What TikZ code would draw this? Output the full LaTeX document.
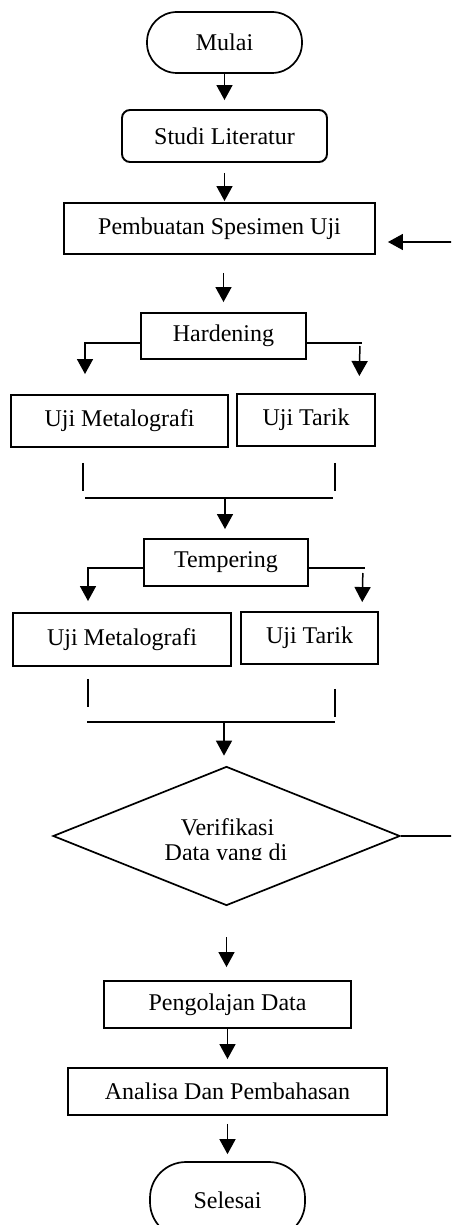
\documentclass[tikz,border=0pt]{standalone}
\usepackage{fontspec}
\setmainfont{Liberation Serif}
\usetikzlibrary{calc}
\usetikzlibrary{arrows.meta}
\usetikzlibrary{shapes.geometric}

\begin{document}
\begin{tikzpicture}[x=1pt, y=-1pt, font=\fontsize{24}{25}\selectfont]

        % Styles for the boxes and the connectors of the flow
        \tikzset{
            terminal/.style={draw, line width=1.7pt, minimum width=155pt, inner sep=0pt},
            stepbox/.style={draw, line width=1.9pt, inner sep=0pt},
            decision/.style={draw, diamond, line width=1.7pt, inner sep=0pt,
                minimum width=347pt, minimum height=139pt},
            arr/.style={line width=1.5pt, -{Triangle[width=16pt, length=15pt]}},
            stub/.style={line width=1.5pt}
        }

        % Page frame, the loop back runs out of it and is cut off
        \useasboundingbox (0, 0) rectangle (451, 1225);
        \clip (0, 0) rectangle (451, 1225);

        % Boxes of the flow, top to bottom
        \node[terminal, rounded corners=30pt, minimum height=61pt] (mulai) at (224.5, 42.5) {Mulai};
        \node[stepbox, rounded corners=8pt, minimum width=205pt, minimum height=52pt] (studi) at (224.5, 136) {Studi Literatur};
        \node[stepbox, minimum width=311pt, minimum height=51pt] (pemb) at (219.5, 228.5) {Pembuatan Spesimen Uji};
        \node[stepbox, minimum width=165pt, minimum height=46pt] (hard) at (223.5, 336) {Hardening};
        \node[stepbox, minimum width=217pt, minimum height=52pt] (metalA) at (119.5, 421) {Uji Metalografi};
        \node[stepbox, minimum width=138pt, minimum height=52pt] (tarikA) at (306, 420) {Uji Tarik};
        \node[stepbox, minimum width=164pt, minimum height=47pt] (temp) at (226, 562.5) {Tempering};
        \node[stepbox, minimum width=218pt, minimum height=53pt] (metalB) at (122, 639.5) {Uji Metalografi};
        \node[stepbox, minimum width=137pt, minimum height=52pt] (tarikB) at (309.5, 638) {Uji Tarik};
        \node[decision] (verif) at (226.5, 836) {};
        \node[stepbox, minimum width=247pt, minimum height=47pt] (olah) at (227.5, 1004.5) {Pengolajan Data};
        \node[stepbox, minimum width=319pt, minimum height=47pt] (analisa) at (227.5, 1091.5) {Analisa Dan Pembahasan};
        \node[terminal, rounded corners=36pt, minimum height=76pt] (selesai) at (227.5, 1200) {Selesai};

        % Text of the decision, the second line is cut at its foot
        \node[anchor=base] (verifA) at (227.5, 835) {Verifikasi};
        \begin{scope}
            \clip (150, 838) rectangle (310, 859);
            \node[anchor=base] (verifB) at (226, 860) {Data yang di};
        \end{scope}

        % Points where the two tests are joined again
        \coordinate (joinAL) at (85, 498);
        \coordinate (joinAR) at (333, 498);
        \coordinate (joinA) at (225, 498);
        \coordinate (joinBL) at (87, 722);
        \coordinate (joinBR) at (335, 722);
        \coordinate (joinB) at (224, 722);

        \begin{scope}[stub]
            \draw ($(hard.east)+(0,7)$) -- ++(55,0);
            \draw ($(temp.east)+(0,5.5)$) -- ++(56,0);

            \draw ($(metalA.south)+(-36.5,15)$) -- ++(0,28);
            \draw ($(tarikA.south)+(29,16)$) -- ++(0,28);
            \draw (joinAL) -- (joinAR);

            \draw ($(metalB.south)+(-34,12)$) -- ++(0,28);
            \draw ($(tarikB.south)+(25.5,24)$) -- ++(0,28);
            \draw (joinBL) -- (joinBR);
        \end{scope}

        \begin{scope}[arr]
            \draw[shorten >=9pt] (mulai.south) -- (mulai.south |- studi.north);
            \draw[shorten <=10pt, shorten >=1pt] (studi.south) -- (studi.south |- pemb.north);
            \draw[shorten <=18pt, shorten >=10pt] (pemb.south -| hard.north) -- (hard.north);

            \draw[shorten >=20pt] ($(hard.west)+(0,7)$) -| ($(metalA.north)+(-34.5,0)$);
            \draw[shorten <=3pt, shorten >=17pt] ($(hard.east)+(53,7)$) -- ($(tarikA.north)+(53,0)$);
            \draw[shorten >=9pt] (joinA) -- (joinA |- temp.north);

            \draw[shorten >=11pt] ($(temp.west)+(0,5.5)$) -| ($(metalB.north)+(-34,0)$);
            \draw[shorten <=5pt, shorten >=9pt] ($(temp.east)+(54,5.5)$) -- ($(tarikB.north)+(52.5,0)$);
            \draw[shorten >=10pt] (joinB) -- (joinB |- verif.north);

            \draw[shorten <=31pt, shorten >=13pt] (verif.south) -- (verif.south |- olah.north);
            \draw[shorten >=8pt] (olah.south) -- (olah.south |- analisa.north);
            \draw[shorten <=8pt, shorten >=7pt] (analisa.south) -- (analisa.south |- selesai.north);

            \draw[shorten >=12pt] (verif.east) -- ++(80,0) |- ($(pemb.east)+(0,13.5)$);
        \end{scope}

\end{tikzpicture}
\end{document}
